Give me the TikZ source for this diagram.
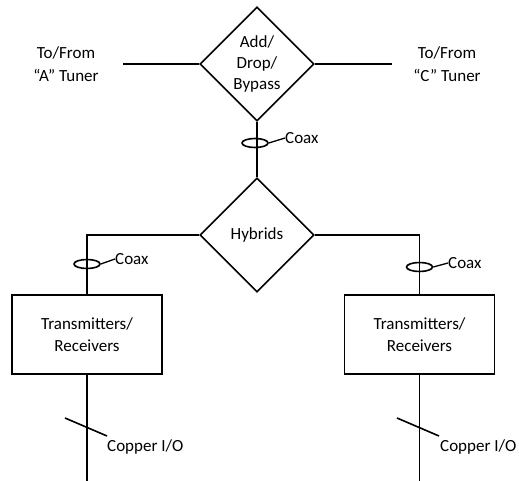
\documentclass[tikz,border=0pt]{standalone}
\usepackage{fontspec}
\setmainfont{Carlito}
\usetikzlibrary{shapes.geometric}
\begin{document}
\begin{tikzpicture}[x=1pt,y=-1pt,
  wire/.style={line width=1.6pt},
  dia/.style={draw,line width=1.6pt,diamond,minimum width=114pt,minimum height=114pt,inner sep=0pt,align=center,font=\fontsize{17}{21}\selectfont},
  trbox/.style={draw,line width=1.6pt,rectangle,minimum width=150pt,minimum height=79pt,inner sep=0pt,align=center,font=\fontsize{17}{22}\selectfont},
  coaxring/.style={draw,line width=1.6pt,ellipse,minimum width=26pt,minimum height=9pt,inner sep=0pt},
  lbl/.style={font=\fontsize{17}{23}\selectfont,inner sep=0pt,align=center}]
\useasboundingbox (0,0) rectangle (519,481);
% main nodes
\node[dia] (adb) at (257,64) {Add/\\Drop/\\Bypass};
\node[dia] (hyb) at (257,235) {Hybrids};
\node[trbox] (trl) at (87,334.5) {Transmitters/\\Receivers};
\node[trbox] (trr) at (419.5,334.5) {Transmitters/\\Receivers};
% tuner labels
\node[lbl] (ta) at (66,64) {To/From\\“A” Tuner};
\node[lbl] (tc) at (447,64) {To/From\\“C” Tuner};
\coordinate (ae) at (123,64);
\coordinate (ce) at (392,64);
\draw[wire] (adb.west) -- (ae);
\draw[wire] (adb.east) -- (ce);
% top coax
\draw[wire] (adb.south) -- (hyb.north);
\node[coaxring] (cx0) at (255,143) {};
\node[lbl,anchor=west] (cx0l) at (285,138) {Coax};
\draw[line width=1.3pt] (cx0.east) -- (cx0l.west);
% hybrids to boxes
\draw[wire] (hyb.west) -| (trl.north);
\draw[wire] (hyb.east) -| (trr.north);
\node[coaxring] (cx1) at (87,264) {};
\node[lbl,anchor=west] (cx1l) at (115,259) {Coax};
\draw[line width=1.3pt] (cx1.east) -- (cx1l.west);
\node[coaxring] (cx2) at (419.5,267) {};
\node[lbl,anchor=west] (cx2l) at (448,263) {Coax};
\draw[line width=1.3pt] (cx2.east) -- (cx2l.west);
% copper
\coordinate (bl) at (87,481);
\coordinate (br) at (419.5,481);
\draw[wire] (trl.south) -- (bl);
\draw[wire] (trr.south) -- (br);
\coordinate (s1a) at (65,418);
\coordinate (s1b) at (107,436);
\coordinate (s2a) at (397,418);
\coordinate (s2b) at (439,436);
\draw[wire] (s1a) -- (s1b);
\draw[wire] (s2a) -- (s2b);
\node[lbl,anchor=west] (cu1) at (107,447) {Copper I/O};
\node[lbl,anchor=west] (cu2) at (440,447) {Copper I/O};
\end{tikzpicture}
\end{document}
